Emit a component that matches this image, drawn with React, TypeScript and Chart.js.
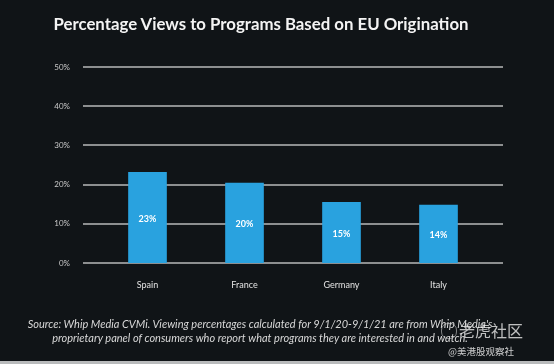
import React, { useEffect, useRef } from "react";
import { Chart, registerables } from "chart.js";

Chart.register(...registerables);

const categories = ["Spain", "France", "Germany", "Italy"];
const viewShare = [23.1, 20.4, 15.5, 14.8];
const valueLabels = ["23%", "20%", "15%", "14%"];
const yTickValues = [0, 10, 20, 30, 40, 50];

const titleText = "Percentage Views to Programs Based on EU Origination";
const footnoteLines = [
  "Source: Whip Media CVMi. Viewing percentages calculated for 9/1/20-9/1/21 are from Whip Media's",
  "proprietary panel of consumers who report what programs they are interested in and watch.",
];

const BG = "#101417";
const BAR = "#29a2df";
const GRID = "#8d8f90";

const gridPlugin = {
  id: "wideGrid",
  beforeDatasetsDraw(chart: any) {
    const { ctx, chartArea, scales } = chart;
    const y = scales.y;
    ctx.save();
    ctx.strokeStyle = GRID;
    ctx.lineWidth = 2;
    yTickValues.forEach((v) => {
      const py = Math.round(y.getPixelForValue(v));
      ctx.beginPath();
      ctx.moveTo(chartArea.left - 16, py);
      ctx.lineTo(chartArea.right + 16, py);
      ctx.stroke();
    });
    ctx.restore();
  },
};

const labelPlugin = {
  id: "innerLabels",
  afterDatasetsDraw(chart: any) {
    const { ctx } = chart;
    const meta = chart.getDatasetMeta(0);
    ctx.save();
    ctx.fillStyle = "#ffffff";
    ctx.font = "bold 9px Lato, 'Open Sans', sans-serif";
    ctx.textAlign = "center";
    ctx.textBaseline = "middle";
    meta.data.forEach((bar: any, i: number) => {
      const midY = (bar.y + bar.base) / 2;
      ctx.fillText(valueLabels[i], bar.x, midY + 1);
    });
    ctx.restore();
  },
};

export default function App() {
  const ref = useRef<HTMLCanvasElement | null>(null);

  useEffect(() => {
    document.body.style.margin = "0";
    document.body.style.background = BG;
    const canvas = ref.current;
    if (!canvas) return;
    const chart = new Chart(canvas, {
      type: "bar",
      data: {
        labels: categories,
        datasets: [
          {
            data: viewShare,
            backgroundColor: BAR,
            borderWidth: 0,
            barThickness: 38,
          },
        ],
      },
      options: {
        animation: false,
        responsive: false,
        maintainAspectRatio: false,
        layout: { padding: { top: 67, left: 19, right: 67, bottom: 61 } },
        plugins: {
          legend: { display: false },
          tooltip: { enabled: false },
          title: { display: false },
        },
        scales: {
          x: {
            afterFit: (s: any) => {
              s.height = 40;
            },
            grid: { display: false, drawTicks: false },
            border: { display: false },
            ticks: {
              color: "#e2e2e2",
              font: { family: "Lato, 'Open Sans', sans-serif", size: 9 },
              padding: 17,
            },
          },
          y: {
            min: 0,
            max: 50,
            afterFit: (s: any) => {
              s.width = 80;
            },
            grid: { display: false, drawTicks: false },
            border: { display: false },
            ticks: {
              stepSize: 10,
              color: "#c9c9c9",
              font: { family: "Lato, 'Open Sans', sans-serif", size: 8 },
              padding: 29,
              callback: (v: any) => v + "%",
            },
          },
        },
      },
      plugins: [gridPlugin, labelPlugin],
    });
    return () => chart.destroy();
  }, []);

  return (
    <div
      style={{
        position: "fixed",
        left: 0,
        top: 0,
        width: 554,
        height: 364,
        background: BG,
        overflow: "hidden",
        fontFamily: "Lato, 'Open Sans', sans-serif",
      }}
    >
      <canvas ref={ref} width={554} height={364} style={{ position: "absolute", left: 0, top: 0 }} />
      <div
        style={{
          position: "absolute",
          left: 0,
          top: 13,
          width: 522,
          textAlign: "center",
          color: "#f4f4f4",
          fontWeight: 700,
          fontSize: 16.8,
          whiteSpace: "nowrap",
        }}
      >
        {titleText}
      </div>
      <div
        style={{
          position: "absolute",
          left: 0,
          top: 317,
          width: 520,
          textAlign: "center",
          color: "#d8d8d8",
          fontStyle: "italic",
          fontSize: 11,
          lineHeight: "13.5px",
          whiteSpace: "nowrap",
        }}
      >
        {footnoteLines.map((l, i) => (
          <div key={i}>{l}</div>
        ))}
      </div>
      <div
        style={{
          position: "absolute",
          left: 441,
          top: 323,
          width: 14,
          height: 14,
          borderRadius: 7,
          border: "1px solid rgba(220,220,220,0.55)",
        }}
      />
      <div
        style={{
          position: "absolute",
          left: 459,
          top: 321,
          color: "rgba(235,235,235,0.8)",
          fontFamily: "'Noto Sans CJK SC', sans-serif",
          fontSize: 16,
          lineHeight: "18px",
          whiteSpace: "nowrap",
        }}
      >
        老虎社区
      </div>
      <div
        style={{
          position: "absolute",
          left: 448,
          top: 345,
          color: "rgba(235,235,235,0.85)",
          fontFamily: "'Noto Sans CJK SC', sans-serif",
          fontSize: 9.5,
          lineHeight: "12px",
          whiteSpace: "nowrap",
        }}
      >
        @美港股观察社
      </div>
      <div
        style={{
          position: "absolute",
          left: 0,
          top: 361,
          width: 554,
          height: 3,
          background: "#b9bbbc",
        }}
      />
    </div>
  );
}
